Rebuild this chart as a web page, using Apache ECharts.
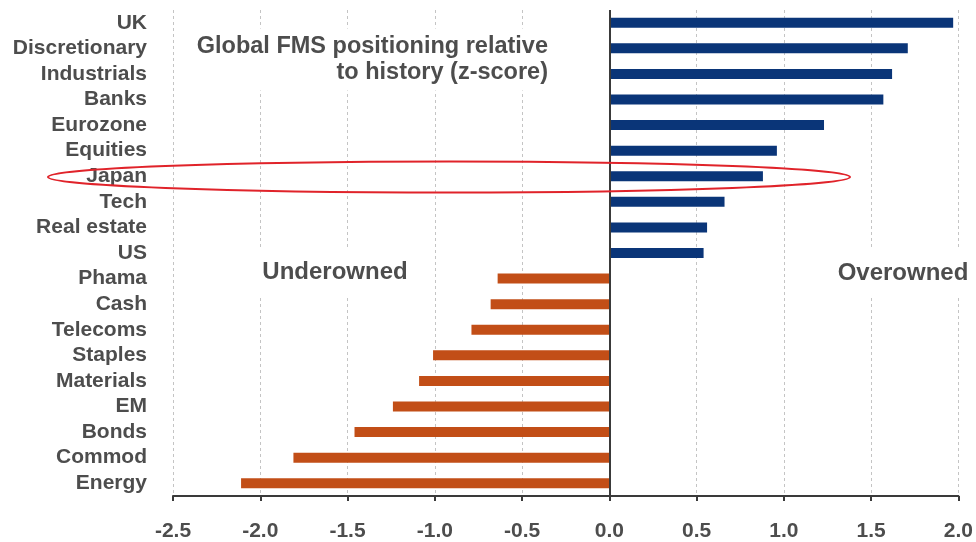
<!DOCTYPE html>
<html>
<head>
<meta charset="utf-8">
<script src="https://cdn.jsdelivr.net/npm/echarts@6/dist/echarts.min.js"></script>
<style>
  html, body { margin: 0; padding: 0; background: #fff; }
  #chart { width: 976px; height: 542px; }
</style>
</head>
<body>
<div id="chart"></div>
<script>
const categories = ['UK', 'Discretionary', 'Industrials', 'Banks', 'Eurozone', 'Equities', 'Japan', 'Tech', 'Real estate', 'US',
  'Phama', 'Cash', 'Telecoms', 'Staples', 'Materials', 'EM', 'Bonds', 'Commod', 'Energy'];
const zScores = [1.97, 1.71, 1.62, 1.57, 1.23, 0.96, 0.88, 0.66, 0.56, 0.54,
  -0.64, -0.68, -0.79, -1.01, -1.09, -1.24, -1.46, -1.81, -2.11];
const xTicks = { min: -2.5, max: 2.0, interval: 0.5 };
const titleText = 'Global FMS positioning relative\nto history (z-score)';
const leftNote = 'Underowned';
const rightNote = 'Overowned';

const FONT = 'Arial, "Liberation Sans", sans-serif';
const TEXT = '#4d4d4d';
const BLUE = '#0a3578';
const ORANGE = '#c24e17';

const chart = echarts.init(document.getElementById('chart'), null, { renderer: 'canvas' });

chart.setOption({
  animation: false,
  backgroundColor: '#fff',
  grid: { left: 173, right: 16, top: 10, bottom: 45, containLabel: false },
  xAxis: {
    type: 'value',
    min: xTicks.min, max: xTicks.max, interval: xTicks.interval,
    axisLine: { show: true, onZero: false, lineStyle: { color: '#3a3a3a', width: 2 } },
    axisTick: { show: true, length: 5, lineStyle: { color: '#3a3a3a', width: 2 } },
    axisLabel: {
      margin: 25, color: TEXT, fontFamily: FONT, fontWeight: 'bold', fontSize: 21,
      formatter: v => v.toFixed(1)
    },
    splitLine: { show: true, lineStyle: { color: '#c4c4c4', type: [3, 3], width: 1 } }
  },
  yAxis: {
    type: 'category',
    data: categories,
    inverse: true,
    axisLine: { show: false, onZero: false },
    axisTick: { show: false },
    axisLabel: { interval: 0, margin: 26, color: TEXT, fontFamily: FONT, fontWeight: 'bold', fontSize: 21 },
    splitLine: { show: false }
  },
  series: [{
    type: 'bar',
    data: zScores,
    barWidth: 10,
    itemStyle: { color: p => (p.value >= 0 ? BLUE : ORANGE) },
    markLine: {
      silent: true,
      symbol: ['none', 'none'],
      label: { show: false },
      lineStyle: { color: '#3a3a3a', type: 'solid', width: 2 },
      data: [{ xAxis: 0 }]
    }
  }],
  graphic: [
    {
      type: 'text', z: 100, x: 556, y: 59.5,
      style: {
        text: titleText, font: 'bold 23.5px ' + FONT, fill: TEXT,
        align: 'right', verticalAlign: 'middle', lineHeight: 26,
        backgroundColor: '#fff', padding: [5, 8, 5, 8]
      }
    },
    {
      type: 'text', z: 100, x: 335, y: 272,
      style: {
        text: leftNote, font: 'bold 24px ' + FONT, fill: TEXT,
        align: 'center', verticalAlign: 'middle',
        backgroundColor: '#fff', padding: [13, 10, 13, 10]
      }
    },
    {
      type: 'text', z: 100, x: 903, y: 273,
      style: {
        text: rightNote, font: 'bold 24px ' + FONT, fill: TEXT,
        align: 'center', verticalAlign: 'middle',
        backgroundColor: '#fff', padding: [13, 10, 13, 10]
      }
    },
    {
      type: 'ellipse', z: 110, silent: true,
      shape: { cx: 449, cy: 177, rx: 401, ry: 15.5 },
      style: { fill: 'none', stroke: '#e0232a', lineWidth: 2 }
    }
  ]
});
</script>
</body>
</html>
